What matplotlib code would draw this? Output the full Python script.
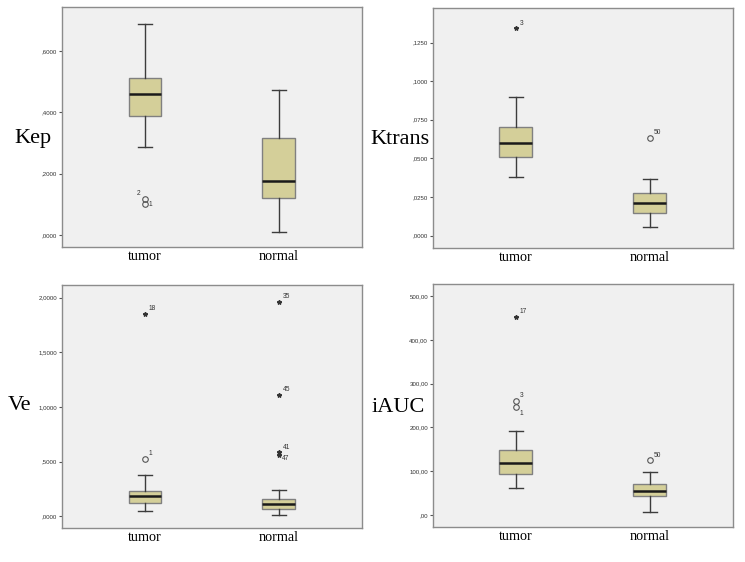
import matplotlib.pyplot as plt

# categories on x
grupos = ['tumor', 'normal']

# box stats: [whisker low, Q1, median, Q3, whisker high]
kep_tumor = [0.287, 0.389, 0.459, 0.512, 0.688]
kep_normal = [0.0085, 0.120, 0.176, 0.317, 0.473]
ktrans_tumor = [0.0381, 0.0510, 0.0601, 0.0701, 0.0900]
ktrans_normal = [0.0058, 0.0149, 0.0210, 0.0277, 0.0368]
ve_tumor = [0.052, 0.122, 0.183, 0.229, 0.378]
ve_normal = [0.016, 0.070, 0.116, 0.162, 0.238]
iauc_tumor = [62, 94, 119, 148.7, 191]
iauc_normal = [6.8, 43.3, 54.7, 70.6, 98]

# outliers: (group index, value, case label, kind) 'o' = outlier, '*' = extreme
kep_out = [(0, 0.118, '2', 'o'), (0, 0.102, '1', 'o')]
ktrans_out = [(0, 0.1342, '3', '*'), (1, 0.0634, '50', 'o')]
ve_out = [(0, 1.853, '18', '*'), (0, 0.525, '1', 'o'),
          (1, 1.960, '35', '*'), (1, 1.111, '45', '*'),
          (1, 0.586, '41', '*'), (1, 0.561, '47', '*')]
iauc_out = [(0, 453, '17', '*'), (0, 261, '3', 'o'), (0, 246.7, '1', 'o'),
            (1, 125, '50', 'o')]

# y ticks
kep_ticks = [0.0, 0.2, 0.4, 0.6]
kep_labels = [',0000', ',2000', ',4000', ',6000']
ktrans_ticks = [0.0, 0.025, 0.05, 0.075, 0.1, 0.125]
ktrans_labels = [',0000', ',0250', ',0500', ',0750', ',1000', ',1250']
ve_ticks = [0.0, 0.5, 1.0, 1.5, 2.0]
ve_labels = [',0000', ',5000', '1,0000', '1,5000', '2,0000']
iauc_ticks = [0, 100, 200, 300, 400, 500]
iauc_labels = [',00', '100,00', '200,00', '300,00', '400,00', '500,00']

paneles = [
    ('Kep', kep_tumor, kep_normal, kep_out, kep_ticks, kep_labels, (-0.039, 0.743),
     [0.0832, 0.5605, 0.4027, 0.427], (33, 138)),
    ('Ktrans', ktrans_tumor, ktrans_normal, ktrans_out, ktrans_ticks, ktrans_labels, (-0.0081, 0.1474),
     [0.581, 0.5587, 0.4027, 0.427], (400, 140)),
    ('Ve', ve_tumor, ve_normal, ve_out, ve_ticks, ve_labels, (-0.107, 2.113),
     [0.0832, 0.0605, 0.4027, 0.432], (20, 405)),
    ('iAUC', iauc_tumor, iauc_normal, iauc_out, iauc_ticks, iauc_labels, (-27.3, 527),
     [0.581, 0.0623, 0.4027, 0.432], (398, 407)),
]

# label offsets (points) for a few crowded cases
offsets = {('Kep', '2'): (-6, 3), ('Kep', '1'): (2.5, -1.5),
           ('Ve', '47'): (2, -3.5), ('iAUC', '1'): (2.5, -6)}

W, H = 745, 562
fig = plt.figure(figsize=(W / 100, H / 100), dpi=100)
fig.patch.set_facecolor('white')

serif = ['Liberation Serif', 'DejaVu Serif']
sans = ['Liberation Sans', 'DejaVu Sans']

for nombre, t, n, outs, ticks, tlabels, ylim, rect, lab_xy in paneles:
    ax = fig.add_axes(rect)
    ax.set_facecolor('#f0f0f0')
    stats = []
    for s, g in zip([t, n], grupos):
        stats.append({'whislo': s[0], 'q1': s[1], 'med': s[2], 'q3': s[3],
                      'whishi': s[4], 'label': g})
    ax.bxp(stats, positions=[1, 2], widths=0.246, capwidths=0.105,
           showfliers=False, patch_artist=True,
           boxprops=dict(facecolor='#d4cf99', edgecolor='#808080', linewidth=1.0),
           medianprops=dict(color='#1a1a1a', linewidth=1.8),
           whiskerprops=dict(color='#3c3c3c', linewidth=1.0),
           capprops=dict(color='#3c3c3c', linewidth=1.0))

    for gi, v, lab, kind in outs:
        x = gi + 1
        if kind == 'o':
            ax.plot(x, v, marker='o', ms=4, mfc='none', mec='#555555', mew=0.8)
        else:
            ax.plot(x, v, marker='*', ms=3.2, color='#333333')
        dx, dy = offsets.get((nombre, lab), (2.5, 2.5))
        ax.annotate(lab, (x, v), xytext=(dx, dy), textcoords='offset points',
                    fontsize=4.8, family=sans, color='#333333')

    ax.set_xlim(0.38, 2.62)
    ax.set_ylim(*ylim)
    ax.set_yticks(ticks)
    ax.set_yticklabels(tlabels, family=sans, fontsize=4.4, color='#333333')
    ax.set_xticks([1, 2])
    ax.set_xticklabels(grupos, family=serif, fontsize=10.2)
    ax.tick_params(axis='x', length=0, pad=2.5)
    ax.tick_params(axis='y', length=2.5, width=0.8, color='#555555', pad=1)
    for sp in ax.spines.values():
        sp.set_color('#8c8c8c')
        sp.set_linewidth(1.0)

    fig.text(lab_xy[0] / W, 1 - lab_xy[1] / H, nombre, family=serif, fontsize=16,
             ha='center', va='center')

fig.savefig('out.png', dpi=100)
